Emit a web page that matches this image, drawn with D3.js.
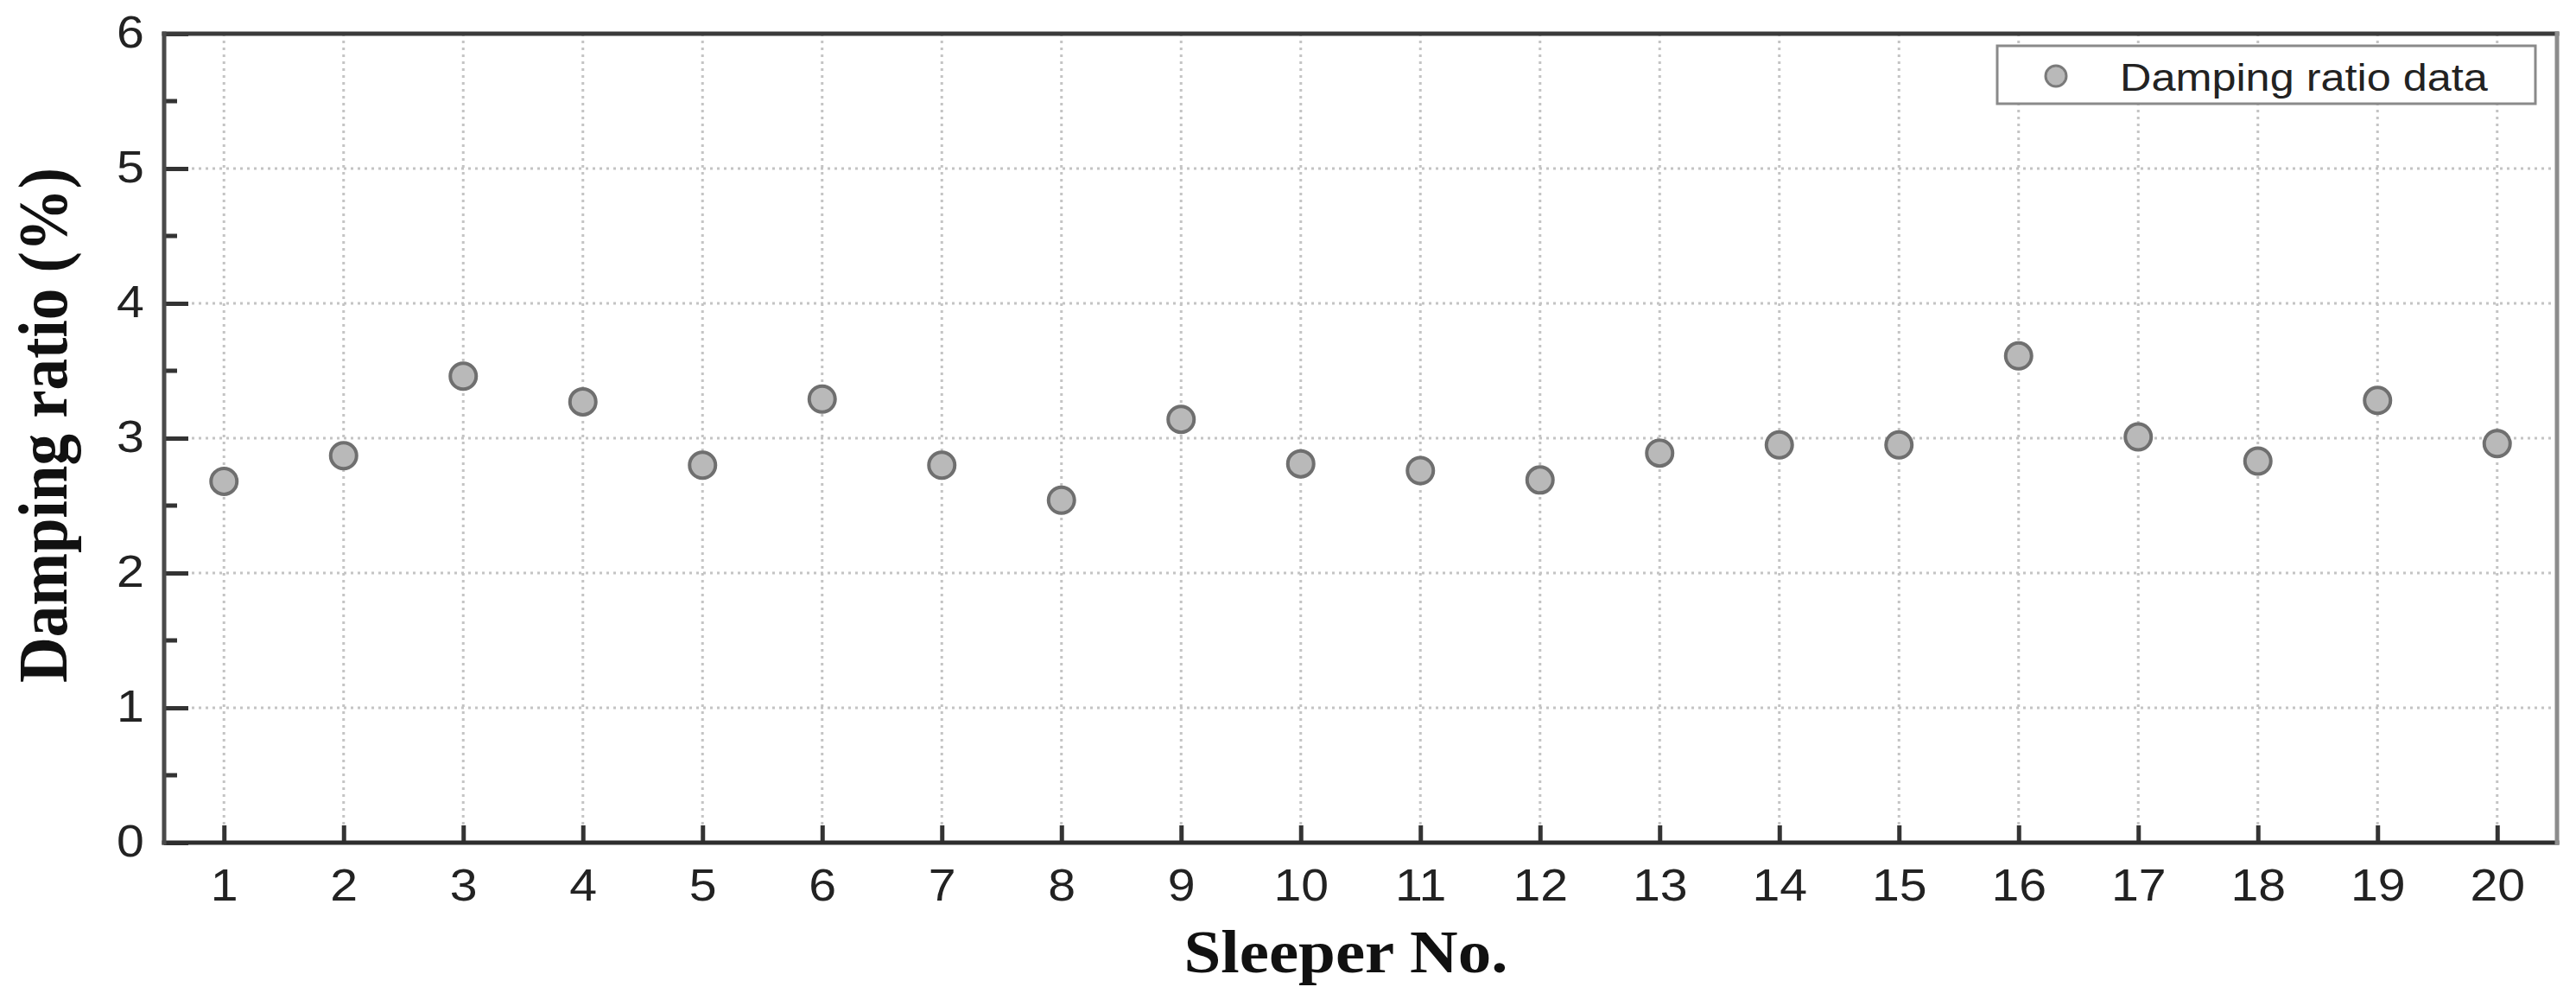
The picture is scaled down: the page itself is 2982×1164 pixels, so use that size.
<!DOCTYPE html>
<html>
<head>
<meta charset="utf-8">
<script src="https://cdn.jsdelivr.net/npm/d3@7"></script>
<style>
  body { margin: 0; background: #fff; }
  svg { display: block; }
</style>
</head>
<body>
<svg id="chart-svg" width="2982" height="1164"></svg>
<script>
// Damping ratio per sleeper
const sleepers = [1, 2, 3, 4, 5, 6, 7, 8, 9, 10, 11, 12, 13, 14, 15, 16, 17, 18, 19, 20]
const dampingRatio = [2.68, 2.87, 3.46, 3.27, 2.80, 3.29, 2.80, 2.54, 3.14, 2.81,
                      2.76, 2.69, 2.89, 2.95, 2.95, 3.61, 3.01, 2.83, 3.28, 2.96]
const yTicks = [0, 1, 2, 3, 4, 5, 6]
const yMinorTicks = [0.5, 1.5, 2.5, 3.5, 4.5, 5.5]
const legendLabel = "Damping ratio data"
const xTitle = "Sleeper No."
const yTitle = "Damping ratio (%)"

const data = sleepers.map((s, i) => ({ no: s, ratio: dampingRatio[i] }))

function initChart() {
  const width = 2982
  const height = 1164
  const marginTop = 39
  const marginRight = 22
  const marginBottom = 189
  const marginLeft = 190
  const stretch = 1.1   // text in the figure is a little wide

  const x = d3.scaleLinear()
      .domain([0.5, 20.5])
      .range([marginLeft, width - marginRight])

  const y = d3.scaleLinear()
      .domain([0, 6])
      .range([height - marginBottom, marginTop])

  const svg = d3.select('#chart-svg')

  // dotted grid
  const grid = svg.append("g")
      .attr("stroke", "#c4c4c4")
      .attr("stroke-width", 3)
      .attr("stroke-dasharray", "3,5")
  grid.selectAll("line.v")
    .data(sleepers)
    .join("line")
      .attr("class", "v")
      .attr("x1", d => x(d)).attr("x2", d => x(d))
      .attr("y1", y(6)).attr("y2", y(0))
  grid.selectAll("line.h")
    .data(yTicks.slice(1, -1))
    .join("line")
      .attr("class", "h")
      .attr("x1", x(0.5)).attr("x2", x(20.5))
      .attr("y1", d => y(d)).attr("y2", d => y(d))

  // bottom axis, ticks point inward
  const xAxis = svg.append("g")
      .attr("transform", `translate(0,${y(0)})`)
      .call(d3.axisBottom(x).tickValues(sleepers).tickSize(-20).tickSizeOuter(0).tickFormat(d3.format("d")))
  xAxis.select(".domain").remove()
  xAxis.selectAll(".tick line").attr("stroke", "#333").attr("stroke-width", 5)
  xAxis.selectAll(".tick text")
      .attr("y", 67).attr("dy", 0)
      .attr("transform", `scale(${stretch},1)`)
      .attr("font-family", "'Liberation Sans', Arial, sans-serif")
      .attr("font-size", 52)
      .attr("fill", "#222")

  // left axis with minor ticks
  const yAxis = svg.append("g")
      .attr("transform", `translate(${x(0.5)},0)`)
      .call(d3.axisLeft(y).tickValues(yTicks).tickSize(-28).tickSizeOuter(0).tickFormat(d3.format("d")))
  yAxis.select(".domain").remove()
  yAxis.selectAll(".tick line").attr("stroke", "#333").attr("stroke-width", 5)
  yAxis.selectAll(".tick text")
      .attr("x", -21).attr("dy", "0.3em")
      .attr("transform", `scale(${stretch},1)`)
      .attr("font-family", "'Liberation Sans', Arial, sans-serif")
      .attr("font-size", 52)
      .attr("fill", "#222")

  svg.append("g")
    .selectAll("line")
    .data(yMinorTicks)
    .join("line")
      .attr("x1", x(0.5)).attr("x2", x(0.5) + 15)
      .attr("y1", d => y(d)).attr("y2", d => y(d))
      .attr("stroke", "#333")
      .attr("stroke-width", 5)

  // frame
  const frame = svg.append("g").attr("stroke-width", 5).attr("stroke-linecap", "square")
  frame.append("line").attr("x1", x(0.5)).attr("x2", x(20.5)).attr("y1", y(6)).attr("y2", y(6)).attr("stroke", "#3a3a3a")
  frame.append("line").attr("x1", x(0.5)).attr("x2", x(20.5)).attr("y1", y(0)).attr("y2", y(0)).attr("stroke", "#2e2e2e")
  frame.append("line").attr("x1", x(0.5)).attr("x2", x(0.5)).attr("y1", y(6)).attr("y2", y(0)).attr("stroke", "#4a4a4a")
  frame.append("line").attr("x1", x(20.5)).attr("x2", x(20.5)).attr("y1", y(6)).attr("y2", y(0)).attr("stroke", "#8c8c8c")

  // points
  svg.append("g")
    .selectAll("circle")
    .data(data)
    .join("circle")
      .attr("cx", d => x(d.no))
      .attr("cy", d => y(d.ratio))
      .attr("r", 15)
      .attr("fill", "#b9b9b9")
      .attr("stroke", "#6f6f6f")
      .attr("stroke-width", 4)

  // legend
  const legend = svg.append("g")
  legend.append("rect")
      .attr("x", 2312).attr("y", 53)
      .attr("width", 623).attr("height", 67)
      .attr("fill", "#fff")
      .attr("stroke", "#8a8a8a")
      .attr("stroke-width", 3)
  legend.append("circle")
      .attr("cx", 2380).attr("cy", 88)
      .attr("r", 12)
      .attr("fill", "#b9b9b9")
      .attr("stroke", "#7a7a7a")
      .attr("stroke-width", 3)
  legend.append("text")
      .attr("transform", `translate(2454,105) scale(1.12,1)`)
      .attr("font-family", "'Liberation Sans', Arial, sans-serif")
      .attr("font-size", 45)
      .attr("fill", "#222")
      .text(legendLabel)

  // axis titles
  svg.append("text")
      .attr("text-anchor", "middle")
      .attr("transform", `translate(1558,1125) scale(${stretch},1)`)
      .attr("font-family", "'Liberation Serif', 'Times New Roman', serif")
      .attr("font-weight", "bold")
      .attr("font-size", 70)
      .attr("fill", "#111")
      .text(xTitle)

  svg.append("text")
      .attr("text-anchor", "middle")
      .attr("transform", `translate(77,492) scale(${stretch},1) rotate(-90)`)
      .attr("font-family", "'Liberation Serif', 'Times New Roman', serif")
      .attr("font-weight", "bold")
      .attr("font-size", 73)
      .attr("fill", "#111")
      .text(yTitle)
}

initChart()
</script>
</body>
</html>
